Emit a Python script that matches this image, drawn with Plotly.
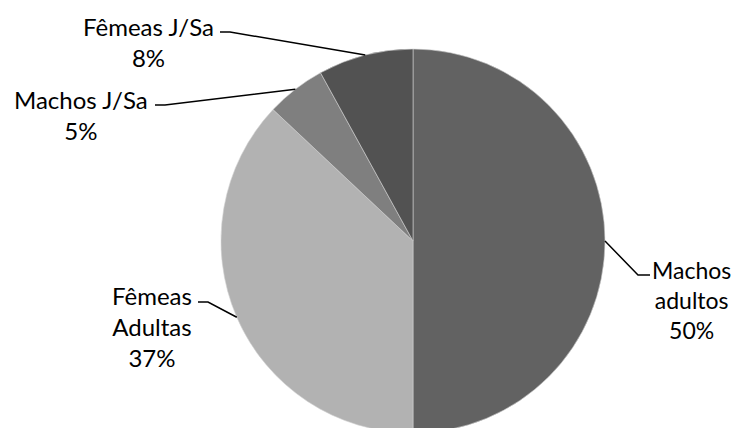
import math
import plotly.graph_objects as go

categories = ["Machos adultos", "Fêmeas Adultas", "Machos J/Sa", "Fêmeas J/Sa"]
values = [50, 37, 5, 8]
label_texts = ["Machos<br>adultos<br>50%", "Fêmeas<br>Adultas<br>37%",
               "Machos J/Sa<br>5%", "Fêmeas J/Sa<br>8%"]
colors = ["#626262", "#b2b2b2", "#7f7f7f", "#525252"]

OFF = 8  # page body margin
W, H = 733, 428
# pie geometry in screen pixels
cx, cy, R = 413, 241, 192
x0p, x1p = cx - R, cx + R
y0p, y1p = cy - R, cy + R

def px(x):
    return (x - OFF) / W

def py(y):
    return 1 - (y - OFF) / H

fig = go.Figure(go.Pie(
    labels=categories, values=values, sort=False, direction="clockwise",
    rotation=0, textinfo="none", hoverinfo="label+percent",
    marker=dict(colors=colors, line=dict(color="#d0d0d0", width=0.6)),
    domain=dict(x=[px(x0p), px(x1p)], y=[py(y1p), py(y0p)]),
    showlegend=False,
))

# label positions (screen pixels) and leader elbows
label_pos = [(691, 300), (152, 326), (81, 115), (148, 42)]
elbows = [[(650, 275), (638, 275)], [(198, 302), (208, 302)],
          [(155, 105), (165, 105)], [(220, 32), (230, 32)]]
label_sizes = [23, 24, 24, 24]

total = sum(values)
cum = 0
annotations = []
shapes = []
for i, v in enumerate(values):
    mid = (cum + v / 2) / total * 2 * math.pi
    cum += v
    ex = cx + R * math.sin(mid)
    ey = cy - R * math.cos(mid)
    (ax, ay), (bx, by) = elbows[i]
    path = f"M {px(ax)} {py(ay)} L {px(bx)} {py(by)} L {px(ex)} {py(ey)}"
    shapes.append(dict(type="path", xref="paper", yref="paper", path=path,
                       line=dict(color="#000000", width=1.5)))
    lx, ly = label_pos[i]
    annotations.append(dict(x=px(lx), y=py(ly), xref="paper", yref="paper",
                            text=label_texts[i], showarrow=False,
                            xanchor="center", yanchor="middle", align="center",
                            font=dict(family="Lato", size=label_sizes[i],
                                      color="#000000")))

fig.update_layout(width=W, height=H, margin=dict(l=0, r=0, t=0, b=0),
                  paper_bgcolor="white", plot_bgcolor="white",
                  annotations=annotations, shapes=shapes)
fig.write_html("out.html")
